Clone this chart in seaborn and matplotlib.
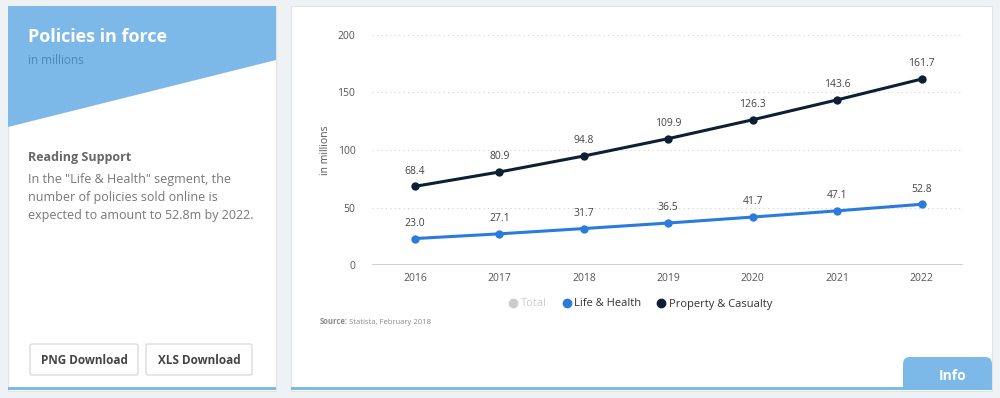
import matplotlib.pyplot as plt
import numpy as np
import pandas as pd
import seaborn as sns
from matplotlib.patches import Rectangle, Polygon, FancyBboxPatch
from matplotlib.lines import Line2D

# data
years = ["2016", "2017", "2018", "2019", "2020", "2021", "2022"]
life_health = [23.0, 27.1, 31.7, 36.5, 41.7, 47.1, 52.8]
property_casualty = [68.4, 80.9, 94.8, 109.9, 126.3, 143.6, 161.7]
series_names = ["Life & Health", "Property & Casualty"]
legend_labels = ["Total", "Life & Health", "Property & Casualty"]
yticks = [0, 50, 100, 150, 200]

colors = {"Life & Health": "#2b7bdd", "Property & Casualty": "#0d1f33"}

sns.set_theme(style="white")
plt.rcParams['font.family'] = ['Open Sans', 'DejaVu Sans']

W, H = 1000, 398
fig = plt.figure(figsize=(W / 100, H / 100), dpi=100)
fig.patch.set_facecolor("#eef2f5")

# page overlay in pixel coords
bg = fig.add_axes([0, 0, 1, 1])
bg.set_xlim(0, W)
bg.set_ylim(H, 0)
bg.axis('off')

# left card
bg.add_patch(Rectangle((8, 6), 268, 385, facecolor="white", edgecolor="#dde3e8", lw=0.8))
bg.add_patch(Polygon([(8, 6), (276, 6), (276, 60), (8, 127)], closed=True,
                     facecolor="#7db9e8", edgecolor="none"))
bg.add_patch(Rectangle((8, 387), 268, 3, facecolor="#7db9e8", edgecolor="none"))
bg.text(28, 37, "Policies in force", color="white", fontsize=13, fontweight="bold", va="center")
bg.text(28, 60, "in millions", color="#4f86b8", fontsize=8.5, va="center")
bg.text(28, 157, "Reading Support", color="#666666", fontsize=9, fontweight="bold", va="center")
body = ['In the "Life & Health" segment, the',
        'number of policies sold online is',
        'expected to amount to 52.8m by 2022.']
for i, line in enumerate(body):
    bg.text(28, 180 + i * 17.5, line, color="#777777", fontsize=9, va="center")

for x0, w, lab in [(30, 108, "PNG Download"), (146, 106, "XLS Download")]:
    bg.add_patch(FancyBboxPatch((x0, 344), w, 31, boxstyle="round,pad=0,rounding_size=2",
                                facecolor="white", edgecolor="#d5d9dd", lw=0.9))
    bg.text(x0 + w / 2, 360, lab, color="#444444", fontsize=8.5, fontweight="bold",
            ha="center", va="center")

# right card
bg.add_patch(Rectangle((291, 6), 701, 385, facecolor="white", edgecolor="#dde3e8", lw=0.8))
bg.add_patch(Rectangle((291, 387), 701, 3, facecolor="#7db9e8", edgecolor="none"))
bg.add_patch(FancyBboxPatch((903, 357), 89, 32, boxstyle="round,pad=0,rounding_size=7",
                            facecolor="#7db9e8", edgecolor="none"))
bg.add_patch(Rectangle((903, 370), 89, 20, facecolor="#7db9e8", edgecolor="none"))
bg.text(953, 376, "Info", color="white", fontsize=10, fontweight="bold", ha="center", va="center")

# source line
bg.text(320, 322, "Source:", color="#8a8a8a", fontsize=5.5, fontweight="bold", va="center")
bg.text(349, 322, "Statista, February 2018", color="#8a8a8a", fontsize=5.5, va="center")

# chart
ax = fig.add_axes([372 / W, (H - 265) / H, (963 - 372) / W, (265 - 35) / H])
ax.set_facecolor("none")

df = pd.DataFrame({
    "year": list(range(len(years))) * 2,
    "value": life_health + property_casualty,
    "series": [series_names[0]] * len(years) + [series_names[1]] * len(years),
})
sns.lineplot(data=df, x="year", y="value", hue="series", palette=colors,
             marker="o", markersize=6, markeredgewidth=0, linewidth=2.2,
             legend=False, ax=ax, zorder=3)

for s, vals in zip(series_names, [life_health, property_casualty]):
    for i, v in enumerate(vals):
        ax.annotate(f"{v:.1f}", (i, v), xytext=(0, 7), textcoords="offset points",
                    ha="center", va="bottom", fontsize=7.5, color="#444444")

ax.set_xlim(-0.51, 6.49)
ax.set_ylim(0, 200)
ax.set_yticks(yticks)
ax.set_xticks(range(len(years)))
ax.set_xticklabels(years)
for y in yticks[1:]:
    ax.axhline(y, color="#cfcfcf", lw=0.8, ls=(0, (1, 3)), zorder=1)
ax.axhline(0, color="#c8c8c8", lw=1.2, zorder=2)
for sp in ax.spines.values():
    sp.set_visible(False)
ax.tick_params(axis="both", length=0, labelsize=7.5, colors="#555555")
ax.tick_params(axis="x", pad=6)
ax.tick_params(axis="y", pad=12)
ax.set_xlabel("")
ax.set_ylabel("in millions", fontsize=7.5, color="#555555", labelpad=5)

handles = [
    Line2D([], [], ls="none", marker="o", color="#cccccc", markersize=6),
    Line2D([], [], ls="none", marker="o", color=colors["Life & Health"], markersize=6),
    Line2D([], [], ls="none", marker="o", color=colors["Property & Casualty"], markersize=6),
]
leg = fig.legend(handles, legend_labels, loc="center", bbox_to_anchor=(640 / W, (H - 304) / H),
                 ncol=3, frameon=False, fontsize=8, handletextpad=0.2, columnspacing=1.3,
                 handlelength=1.0)
for t, c in zip(leg.get_texts(), ["#cccccc", "#333333", "#333333"]):
    t.set_color(c)

fig.savefig("out.png", dpi=100, facecolor=fig.get_facecolor())
